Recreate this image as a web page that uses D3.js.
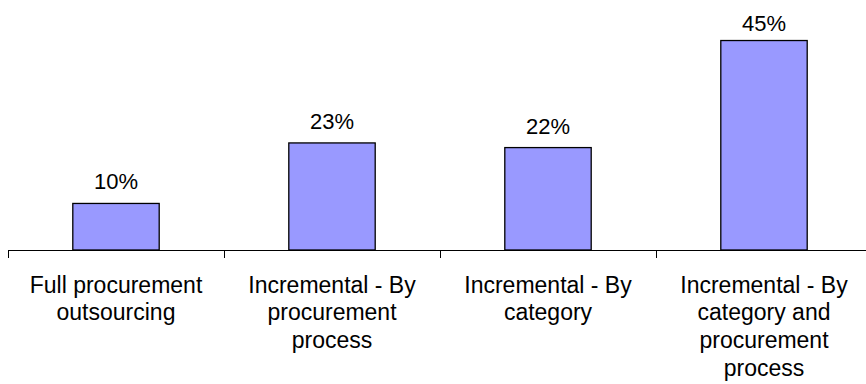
<!DOCTYPE html>
<html>
<head>
<meta charset="utf-8">
<script src="https://cdn.jsdelivr.net/npm/d3@7"></script>
<style>
  html, body { margin: 0; padding: 0; background: #fff; }
  svg { display: block; }
  text { font-family: "Liberation Sans", Arial, sans-serif; fill: #000; }
</style>
</head>
<body>
<svg id="chart" width="866" height="384"></svg>
<script>
const categories = [
  "Full procurement outsourcing",
  "Incremental - By procurement process",
  "Incremental - By category",
  "Incremental - By category and procurement process"
];
const categoryLines = [
  ["Full procurement", "outsourcing"],
  ["Incremental - By", "procurement", "process"],
  ["Incremental - By", "category"],
  ["Incremental - By", "category and", "procurement", "process"]
];
const values = [10, 23, 22, 45];
const valueLabels = ["10%", "23%", "22%", "45%"];

const svg = d3.select("#chart");
const axisY = 250;

const x = d3.scaleBand()
  .domain(categories)
  .range([8, 872])
  .paddingInner(0.6)
  .paddingOuter(0.3);

const y = d3.scaleLinear()
  .domain([0, 50])
  .range([axisY, axisY - 50 * 4.655]);

// bars
svg.selectAll("rect.bar")
  .data(values)
  .join("rect")
  .attr("class", "bar")
  .attr("x", (d, i) => x(categories[i]))
  .attr("y", d => y(d))
  .attr("width", x.bandwidth())
  .attr("height", d => y(0) - y(d))
  .attr("fill", "#9999FF")
  .attr("stroke", "#000")
  .attr("stroke-width", 1.3);

// value labels
svg.selectAll("text.val")
  .data(values)
  .join("text")
  .attr("class", "val")
  .attr("x", (d, i) => x(categories[i]) + x.bandwidth() / 2)
  .attr("y", d => Math.max(y(d) - 14, 31))
  .attr("text-anchor", "middle")
  .attr("font-size", "22px")
  .text((d, i) => valueLabels[i]);

// axis line
const step = x.step();
const pad = step * x.paddingInner() / 2;
svg.append("line")
  .attr("x1", x.range()[0]).attr("x2", x.range()[1])
  .attr("y1", axisY + 0.5).attr("y2", axisY + 0.5)
  .attr("stroke", "#000").attr("stroke-width", 1);

// ticks at band boundaries
const bounds = categories.map(c => x(c) - pad).concat([x(categories[categories.length - 1]) + x.bandwidth() + pad]);
svg.selectAll("line.tick")
  .data(bounds)
  .join("line")
  .attr("class", "tick")
  .attr("x1", d => Math.round(d) + 0.5).attr("x2", d => Math.round(d) + 0.5)
  .attr("y1", axisY).attr("y2", axisY + 8)
  .attr("stroke", "#000").attr("stroke-width", 1);

// category labels
const cat = svg.selectAll("text.cat")
  .data(categories)
  .join("text")
  .attr("class", "cat")
  .attr("text-anchor", "middle")
  .attr("font-size", "23px");
cat.each(function(c, i) {
  const cx = x(c) + x.bandwidth() / 2;
  d3.select(this).selectAll("tspan")
    .data(categoryLines[i])
    .join("tspan")
    .attr("x", cx)
    .attr("y", (l, j) => 292.7 + j * 27.7)
    .text(l => l);
});
</script>
</body>
</html>
